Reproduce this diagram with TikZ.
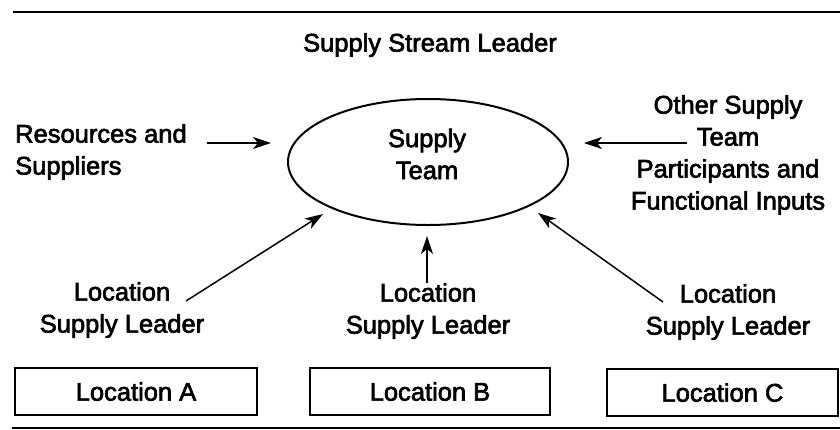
\documentclass[tikz,border=0pt]{standalone}
\usepackage{fontspec}
\setmainfont{Liberation Sans}[BoldFont=Liberation Sans, BoldFeatures={FakeBold=2.5}]
\usetikzlibrary{arrows.meta,shapes.geometric}
\begin{document}
\begin{tikzpicture}[x=1pt,y=-1pt,
  txt/.style={font=\fontsize{25.5}{32}\selectfont\bfseries, align=center, inner sep=0pt},
  locbox/.style={draw, line width=1.8pt, minimum height=47pt, inner sep=0pt},
  arr/.style={line width=1.5pt, -{Stealth[length=18pt,width=12pt,inset=5pt]}},
  rule/.style={line width=2.6pt}]
  \useasboundingbox (0,0) rectangle (840,429);

  % horizontal rules framing the figure
  \coordinate (tl) at (13,12);
  \coordinate (tr) at (840,12);
  \coordinate (bl) at (12,428);
  \coordinate (br) at (840,428);
  \draw[rule] (tl) -- (tr);
  \draw[rule] (bl) -- (br);

  % title
  \node[txt] (lead) at (430,45) {Supply Stream Leader};

  % central team ellipse
  \node[draw, ellipse, line width=2pt, minimum width=280pt, minimum height=126pt, inner sep=0pt] (team) at (428,162) {};
  \node[txt] (teamtxt) at (427,154) {Supply\\Team};

  % side inputs
  \node[txt, align=left, anchor=west] (res) at (15,152) {Resources and\\Suppliers};
  \node[txt] (other) at (728,155) {Other Supply\\Team\\Participants and\\Functional Inputs};

  % location leaders
  \node[txt] (lslA) at (122,310) {Location\\Supply Leader};
  \node[txt] (lslB) at (428,311) {Location\\Supply Leader};
  \node[txt] (lslC) at (728,312) {Location\\Supply Leader};

  % location boxes
  \node[locbox, minimum width=242pt, txt] (locA) at (136,391.5) {Location A};
  \node[locbox, minimum width=240pt, txt] (locB) at (430,391.5) {Location B};
  \node[locbox, minimum width=231pt, txt] (locC) at (722.5,392.5) {Location C};

  % arrow end points
  \coordinate (resS) at (207,143);
  \coordinate (resE) at (271,143);
  \coordinate (othS) at (687,143);
  \coordinate (othE) at (584,143);
  \coordinate (aS) at (186,301);
  \coordinate (aE) at (323,214);
  \coordinate (bS) at (427,283);
  \coordinate (bE) at (427,236);
  \coordinate (cS) at (663,302);
  \coordinate (cE) at (538,213);

  \draw[arr] (resS) -- (resE);
  \draw[arr] (othS) -- (othE);
  \draw[arr] (aS) -- (aE);
  \draw[arr] (bS) -- (bE);
  \draw[arr] (cS) -- (cE);
\end{tikzpicture}
\end{document}
